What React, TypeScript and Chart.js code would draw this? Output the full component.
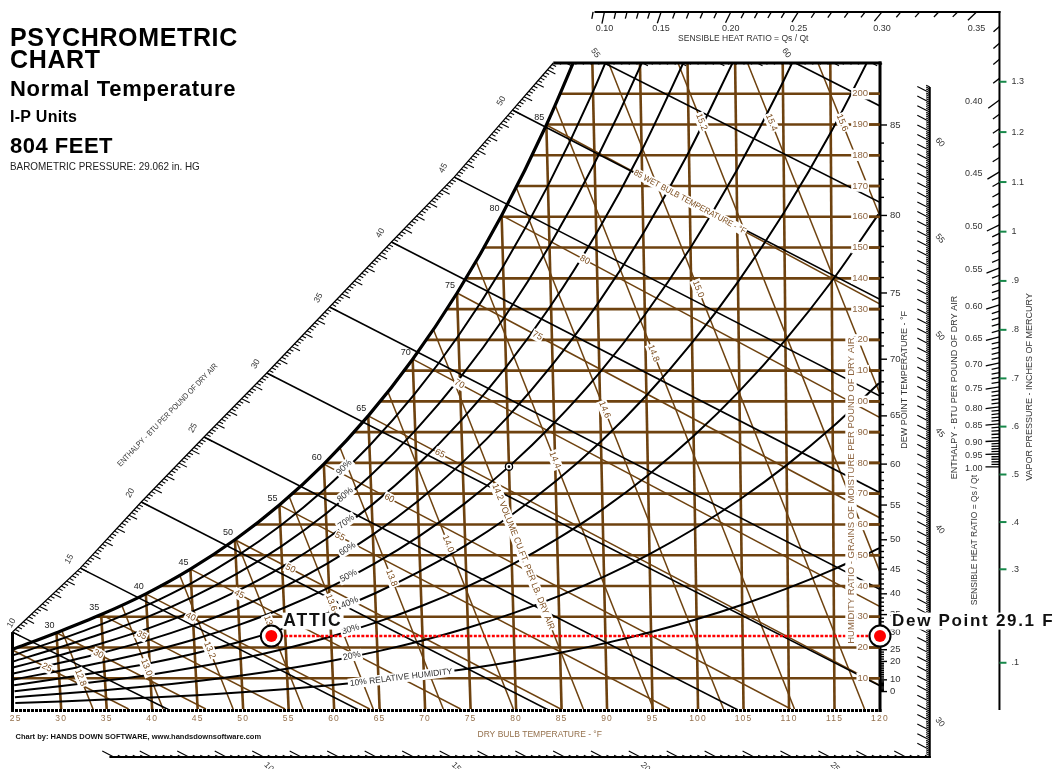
import React, { useEffect, useRef } from "react";
import { Chart, registerables } from "chart.js";

Chart.register(...registerables);

// ---------------- data ----------------
// dry-bulb temperatures (°F) on the bottom axis
const dryBulbTemps = [25, 30, 35, 40, 45, 50, 55, 60, 65, 70, 75, 80, 85, 90, 95, 100, 105, 110, 115, 120];
// leftward lean of each dry-bulb line (°F per grain) – the chart's oblique grid
const dryBulbSkew = [0.0219, 0.0208, 0.0197, 0.0186, 0.0175, 0.0164, 0.0153, 0.0142, 0.0131, 0.012, 0.011, 0.0099, 0.0088, 0.0077, 0.0066, 0.0055, 0.0044, 0.0033, 0.0022, 0.0011];
// saturation humidity ratio (grains / lb) at each dry-bulb temperature
const saturationGrains = [19.27, 24.79, 30.69, 37.44, 45.46, 55.01, 66.3, 79.61, 95.29, 113.71, 135.24, 160.44, 189.85, 224.1];

// relative humidity curves (grains / lb) at the dry-bulb temperatures above
const rhLevels = [10, 20, 30, 40, 50, 60, 70, 80, 90];
const rh10 = [1.92, 2.47, 3.07, 3.71, 4.5, 5.44, 6.54, 7.83, 9.35, 11.11, 13.15, 15.53, 18.27, 21.42, 25.04, 29.18, 33.91, 39.28, 45.39, 52.31];
const rh20 = [3.84, 4.95, 6.13, 7.44, 9.02, 10.89, 13.1, 15.69, 18.73, 22.28, 26.4, 31.18, 36.7, 43.05, 50.37, 58.76, 68.35, 79.28, 91.73, 105.89];
const rh30 = [5.76, 7.43, 9.19, 11.16, 13.54, 16.36, 19.68, 23.58, 28.16, 33.5, 39.71, 46.93, 55.29, 64.9, 75.99, 88.73, 103.33, 120.01, 139.06, 160.79];
const rh40 = [7.69, 9.9, 12.25, 14.89, 18.07, 21.84, 26.28, 31.5, 37.63, 44.79, 53.12, 62.81, 74.03, 86.97, 101.92, 119.12, 138.87, 161.5, 187.41, 217.06];
const rh50 = [9.61, 12.36, 15.31, 18.64, 22.61, 27.34, 32.9, 39.45, 47.14, 56.14, 66.6, 78.79, 92.95, 109.25, 128.15, 149.93, 174.98, 203.76, 236.8];
const rh60 = [11.54, 14.85, 18.38, 22.38, 27.17, 32.84, 39.54, 47.42, 56.68, 67.53, 80.17, 94.89, 112.01, 131.76, 154.69, 181.16, 211.69];
const rh70 = [13.47, 17.33, 21.46, 26.12, 31.72, 38.37, 46.2, 55.43, 66.27, 78.99, 93.82, 111.11, 131.23, 154.5, 181.54, 212.83];
const rh80 = [15.4, 19.82, 24.54, 29.89, 36.29, 43.9, 52.88, 63.46, 75.9, 90.51, 107.54, 127.44, 150.6, 177.48, 208.72, 244.9];
const rh90 = [17.34, 22.3, 27.61, 33.66, 40.87, 49.45, 59.58, 71.52, 85.58, 102.08, 121.35, 143.88, 170.15, 200.68, 236.2];
const rhCurves = [rh10, rh20, rh30, rh40, rh50, rh60, rh70, rh80, rh90];

// humidity-ratio grid lines (grains) and where each meets the saturation curve (°F axis)
const humidityRatioTicks = [10, 20, 30, 40, 50, 60, 70, 80, 90, 100, 110, 120, 130, 140, 150, 160, 170, 180, 190, 200];
const humidityLineStartX = [24.5, 25.22, 33.83, 40.87, 46.53, 51.25, 55.33, 58.98, 62.09, 64.99, 67.64, 70.05, 72.31, 74.43, 76.38, 78.33, 80.01, 81.68, 83.35, 84.78];

// dew point scale (°F) on the right edge and its humidity ratio (grains)
const dewPointTicks = [0, 10, 20, 25, 30, 35, 40, 45, 50, 55, 60, 65, 70, 75, 80, 85];
const dewPointGrains = [5.67, 9.48, 15.46, 19.27, 24.79, 30.69, 37.44, 45.46, 55.01, 66.3, 79.61, 95.29, 113.71, 135.24, 160.44, 189.85];

// wet-bulb lines: start on the saturation curve, end point
const wetBulbTemps = [25, 30, 35, 40, 45, 50, 55, 60, 65, 70, 75, 80, 85];
const wetBulbEndX = [37.4, 45.9, 54.6, 63.9, 73.9, 84.9, 96.9, 110.2, 120, 120, 120, 120, 120];
const wetBulbEndW = [0, 0, 0, 0, 0, 0, 0, 0, 7.7, 33.3, 62.1, 94.7, 131.6];
const wetBulbLabelAt = [0.3, 0.28, 0.22, 0.2, 0.18, 0.17, 0.155, 0.14, 0.14, 0.1, 0.19, 0.22, 0.43];

// specific volume lines (cu.ft / lb dry air)
const volumeValues = [12.8, 13.0, 13.2, 13.4, 13.6, 13.8, 14.0, 14.2, 14.4, 14.6, 14.8, 15.0, 15.2, 15.4, 15.6];
const volumeTopX = [30.07, 36.65, 43.03, 49.19, 55.06, 60.62, 65.89, 70.87, 75.57, 79.99, 84.33, 90.17, 97.8, 105.44, 113.18];
const volumeTopW = [25.5, 33.8, 43.5, 55.2, 69.1, 85.2, 103.3, 123.7, 145.8, 169.8, 196.0, 210, 210, 210, 210];
const volumeEndX = [33.5, 41.2, 48.9, 56.6, 64.3, 72.0, 79.7, 87.4, 95.1, 102.8, 110.6, 118.3, 120, 120, 120];
const volumeEndW = [0, 0, 0, 0, 0, 0, 0, 0, 0, 0, 0, 0, 44.5, 102.4, 160.2];
const volumeLabelAt = [0.6, 0.6, 0.56, 0.5, 0.5, 0.5, 0.48, 0.6, 0.445, 0.427, 0.41, 0.35, 0.116, 0.18, 0.39];

// enthalpy lines (BTU / lb dry air): start on the enthalpy scale, end on the outer scales
const enthalpyValues = [10, 15, 20, 25, 30, 35, 40, 45, 50, 55, 60];
const enthStartX = [24.65, 32.1, 38.8, 45.7, 52.6, 59.5, 66.3, 73.2, 79.6, 89.7, 110.7];
const enthStartW = [25.0, 45.8, 67.3, 88.4, 109.2, 130.7, 151.8, 172.9, 194.7, 210, 210];
const enthEndX = [52.27, 72.87, 93.66, 114.5, 125.47, 125.47, 125.47, 125.47, 125.47, 125.47, 125.47];
const enthEndW = [-15.6, -15.6, -15.6, -15.6, -0.7, 30.6, 62.0, 93.4, 124.8, 156.5, 187.8];

// sensible heat ratio protractor
const shrTopValues = [0.1, 0.15, 0.2, 0.25, 0.3, 0.35];
const shrTopX = [89.71, 95.94, 103.6, 111.03, 120.22, 130.61];
const shrRightValues = [0.36, 0.37, 0.38, 0.39, 0.4, 0.45, 0.5, 0.55, 0.6, 0.65, 0.7, 0.75, 0.8, 0.85, 0.9, 0.95, 1.0];
const shrRightW = [221.9, 216.4, 211.2, 205.0, 198.0, 174.6, 157.4, 143.4, 131.4, 121.0, 112.5, 104.7, 98.2, 92.7, 87.2, 82.9, 78.7];
const shrLabelled = [0.4, 0.45, 0.5, 0.55, 0.6, 0.65, 0.7, 0.75, 0.8, 0.85, 0.9, 0.95, 1.0];
const shrRefX = [79.22];
const shrRefW = [78.79];

// vapor pressure scale (in. Hg) and matching humidity ratio (grains)
const vaporPressureValues = [0.1, 0.2, 0.3, 0.4, 0.5, 0.6, 0.7, 0.8, 0.9, 1.0, 1.1, 1.2, 1.3];
const vaporPressureGrains = [15.03, 30.17, 45.42, 60.77, 76.23, 91.8, 107.47, 123.26, 139.16, 155.17, 171.3, 187.54, 203.9];

// plotted state points
const markerLabels = ["ATTIC", "Dew Point 29.1 F"];
const markerX = [53.1, 120];
const markerGrains = [23.7, 23.7];

// ---------------- styling ----------------
const X_MIN = 24.65;
const X_MAX = 120;
const W_MAX = 210;
const BROWN = "#6e420f";
const BROWN_TEXT = "#8e6540";
const TAN = "#94704c";
const FONT = '"Liberation Sans", Arial, Helvetica, sans-serif';
const f = (size: number, weight = "normal") => `${weight} ${size}px ${FONT}`;

const at = (i: number, w: number) => ({ x: dryBulbTemps[i] - dryBulbSkew[i] * w, y: w });

function interp(xs: number[], ys: number[], v: number) {
  const n = xs.length;
  let i = 0;
  while (i < n - 2 && v > xs[i + 1]) i++;
  const t = (v - xs[i]) / (xs[i + 1] - xs[i]);
  return ys[i] + (ys[i + 1] - ys[i]) * t;
}

function drawText(ctx: CanvasRenderingContext2D, text: string, x: number, y: number, o: any = {}) {
  const size = o.size || 10;
  ctx.save();
  ctx.translate(x, y);
  if (o.angle) ctx.rotate(o.angle);
  ctx.font = f(size, o.weight || "normal");
  (ctx as any).letterSpacing = o.spacing || "0px";
  ctx.textAlign = o.align || "center";
  ctx.textBaseline = "middle";
  let w = ctx.measureText(text).width;
  if (o.maxWidth && w > o.maxWidth) w = o.maxWidth;
  if (o.bg) {
    const pad = o.pad ?? 2;
    const bh = o.bgH ?? size * 1.2;
    const left = o.align === "left" ? 0 : o.align === "right" ? -w : -w / 2;
    ctx.fillStyle = "#fff";
    ctx.fillRect(left - pad, -bh / 2, w + pad * 2, bh);
  }
  ctx.fillStyle = o.color || "#222";
  if (o.maxWidth) ctx.fillText(text, 0, 0, o.maxWidth);
  else ctx.fillText(text, 0, 0);
  ctx.restore();
}

function drawOverlay(chart: any) {
  const ctx: CanvasRenderingContext2D = chart.ctx;
  const xs = chart.scales.x;
  const ys = chart.scales.y;
  const X = (v: number) => xs.getPixelForValue(v);
  const Y = (v: number) => ys.getPixelForValue(v);
  const area = chart.chartArea;
  const seg = (x1: number, y1: number, x2: number, y2: number) => {
    ctx.beginPath();
    ctx.moveTo(x1, y1);
    ctx.lineTo(x2, y2);
    ctx.stroke();
  };
  const unit = (dx: number, dy: number) => {
    const l = Math.hypot(dx, dy) || 1;
    return { x: dx / l, y: dy / l };
  };
  const pxOf = (p: any) => ({ x: X(p.x), y: Y(p.y) });

  ctx.save();
  ctx.lineCap = "butt";
  ctx.strokeStyle = "#000";

  // ---- chart frame ----
  const nL = 9;
  const leftVals = enthalpyValues.slice(0, nL);
  const leftX = enthStartX.slice(0, nL);
  const leftW = enthStartW.slice(0, nL);
  const hCorner = interp(leftW, leftVals, W_MAX);
  const cornerX = interp(leftVals, leftX, hCorner);
  ctx.lineWidth = 3;
  seg(X(X_MAX), Y(0) + 3, X(X_MAX), Y(W_MAX) - 1.5);
  seg(X(X_MIN), Y(0) + 3, X(X_MIN), Y(enthStartW[0]));
  seg(X(cornerX), Y(W_MAX), X(X_MAX) + 1.5, Y(W_MAX));
  ctx.setLineDash([3, 1]);
  seg(X(X_MIN) - 1.5, Y(0) + 1.5, X(X_MAX) + 1.5, Y(0) + 1.5);
  ctx.setLineDash([]);

  const eDir = unit(X(enthEndX[4]) - X(enthStartX[4]), Y(enthEndW[4]) - Y(enthStartW[4]));

  // ---- left diagonal enthalpy scale ----
  ctx.lineWidth = 1.3;
  ctx.beginPath();
  leftVals.forEach((h, k) => {
    const px = X(leftX[k]);
    const py = Y(leftW[k]);
    if (k === 0) ctx.moveTo(px, py);
    else ctx.lineTo(px, py);
  });
  ctx.lineTo(X(cornerX), Y(W_MAX));
  ctx.stroke();
  ctx.lineWidth = 1.1;
  for (let k = 0; ; k++) {
    const h = leftVals[0] + k * 0.2;
    if (h > hCorner) break;
    const px = X(interp(leftVals, leftX, h));
    const py = Y(interp(leftVals, leftW, h));
    const len = k % 5 === 0 ? 9 : 4.5;
    seg(px, py, px + eDir.x * len, py + eDir.y * len);
  }
  leftVals.forEach((h, k) =>
    drawText(ctx, String(h), Math.max(X(leftX[k]) - 11, area.left - 1), Y(leftW[k]) - 9, { size: 8.5, color: "#333", angle: -Math.PI / 3 })
  );

  // top edge enthalpy marks
  const topVals = enthalpyValues.slice(nL);
  const topX = enthStartX.slice(nL);
  const hTop0 = interp(topX, topVals, cornerX);
  const hTop1 = interp(topX, topVals, X_MAX);
  for (let k = Math.ceil(hTop0 * 5); k <= hTop1 * 5; k++) {
    const px = X(interp(topVals, topX, k / 5));
    const py = Y(W_MAX);
    const len = k % 5 === 0 ? 6 : 3;
    seg(px, py, px + eDir.x * len, py + eDir.y * len);
  }
  topVals.forEach((h, k) =>
    drawText(ctx, String(h), X(topX[k]) - 9, Y(W_MAX) - 10, { size: 8.5, color: "#333", angle: Math.PI * 0.3 })
  );

  // bottom enthalpy scale
  const bVals = enthalpyValues.slice(0, 4);
  const bX = enthEndX.slice(0, 4);
  const bW = enthEndW[0];
  const bStartX = 35.3;
  const rScaleX = enthEndX[4];
  const by = Y(bW);
  ctx.lineWidth = 2;
  seg(X(bStartX), by, X(rScaleX) + 1, by);
  ctx.lineWidth = 1.1;
  const hb0 = interp(bX, bVals, bStartX);
  const hb1 = interp(bX, bVals, rScaleX);
  for (let k = Math.ceil(hb0 * 5); k <= hb1 * 5; k++) {
    const px = X(interp(bVals, bX, k / 5));
    const len = k % 5 === 0 ? 13 : 4;
    seg(px, by, px - eDir.x * len, by - eDir.y * len);
  }
  bVals.forEach((h, k) =>
    drawText(ctx, String(h), X(bX[k]) + 5, by + 10, { size: 8.5, color: "#333", angle: Math.PI / 4 })
  );

  // right enthalpy scale
  const rVals = enthalpyValues.slice(4);
  const rW = enthEndW.slice(4);
  const rTopW = 202.2;
  const rx = X(rScaleX);
  ctx.lineWidth = 2;
  seg(rx, by + 1, rx, Y(rTopW));
  ctx.lineWidth = 1.1;
  const hr0 = interp(rW, rVals, bW);
  const hr1 = interp(rW, rVals, rTopW);
  for (let k = Math.ceil(hr0 * 10); k <= hr1 * 10; k++) {
    const py = Y(interp(rVals, rW, k / 10));
    const len = k % 5 === 0 ? 14 : 4;
    seg(rx, py, rx - eDir.x * len, py - eDir.y * len);
  }
  rVals.forEach((h, k) =>
    drawText(ctx, String(h), rx + 10, Y(rW[k]) + 11, { size: 8.5, color: "#333", angle: Math.PI * 0.28 })
  );

  // ---- sensible heat ratio protractor ----
  const R = { x: X(shrRefX[0]), y: Y(shrRefW[0]) };
  const shrTopW = 226.6;
  const shrScaleX = 133.13;
  const sx = X(shrScaleX);
  const sy = Y(shrTopW);
  ctx.lineWidth = 2;
  seg(X(88.62), sy, sx + 1, sy);
  seg(sx, sy - 1, sx, Y(-0.3));
  ctx.lineWidth = 1.3;
  for (let k = 9; k <= 35; k++) {
    const px = X(interp(shrTopValues, shrTopX, k / 100));
    const d = unit(R.x - px, R.y - sy);
    const len = k % 5 === 0 ? 12 : 7;
    seg(px, sy, px + d.x * len, sy + d.y * len);
  }
  shrTopValues.forEach((v, k) => drawText(ctx, v.toFixed(2), X(shrTopX[k]), sy + 17, { size: 9, color: "#333" }));
  drawText(ctx, "SENSIBLE HEAT RATIO = Qs / Qt", (X(shrTopX[0]) + X(shrTopX[4])) / 2, sy + 27, { size: 8.5, color: "#333" });
  for (let k = 36; k <= 100; k++) {
    const py = Y(interp(shrRightValues, shrRightW, k / 100));
    const d = unit(R.x - sx, R.y - py);
    const len = k % 5 === 0 ? 14 : 8;
    seg(sx, py, sx + d.x * len, py + d.y * len);
  }
  shrLabelled.forEach((v) => {
    const py = Y(interp(shrRightValues, shrRightW, v));
    drawText(ctx, v.toFixed(2), sx - 17, py + 2, { size: 9, color: "#333", align: "right" });
  });

  // vapor pressure scale
  ctx.strokeStyle = "#17884a";
  ctx.lineWidth = 2;
  vaporPressureValues.forEach((v, k) => {
    const py = Y(vaporPressureGrains[k]);
    seg(sx, py, sx + 7, py);
    const label = v < 1 ? String(v).slice(1) : String(v);
    drawText(ctx, label, sx + 12, py, { size: 9, color: "#333", align: "left" });
  });

  // ---- right axis: humidity ratio (brown) and dew point (black) ----
  const ax = X(X_MAX);
  ctx.strokeStyle = BROWN;
  ctx.lineWidth = 2.5;
  humidityRatioTicks.forEach((w) => {
    const py = Y(w);
    seg(ax - 11, py, ax, py);
    drawText(ctx, String(w), ax - 12, py, { size: 9.5, color: BROWN_TEXT, align: "right", bg: true, pad: 1 });
  });
  ctx.strokeStyle = "#000";
  ctx.lineWidth = 1.4;
  for (let t = 0; t <= 85; t++) {
    const py = Y(interp(dewPointTicks, dewPointGrains, t));
    const major = dewPointTicks.indexOf(t) >= 0;
    seg(ax, py, ax + (major ? 7 : 4), py);
  }
  dewPointTicks.forEach((t, k) =>
    drawText(ctx, String(t), ax + 10, Y(dewPointGrains[k]), { size: 9.5, color: "#333", align: "left" })
  );

  // axis titles
  drawText(ctx, "DEW POINT TEMPERATURE - °F", ax + 25, Y(107), { size: 9, color: "#333", angle: -Math.PI / 2 });
  drawText(ctx, "HUMIDITY RATIO - GRAINS OF MOISTURE PER POUND OF DRY AIR", ax - 29, Y(71), {
    size: 9.5, color: BROWN_TEXT, angle: -Math.PI / 2, bg: true, maxWidth: 316, pad: 1,
  });
  drawText(ctx, "ENTHALPY - BTU PER POUND OF DRY AIR", rx + 25, Y(104.5), { size: 9, color: "#333", angle: -Math.PI / 2 });
  drawText(ctx, "SENSIBLE HEAT RATIO = Qs / Qt", sx - 25, Y(54.9), { size: 8.5, color: "#333", angle: -Math.PI / 2 });
  drawText(ctx, "VAPOR PRESSURE - INCHES OF MERCURY", sx + 30, Y(104.7), { size: 9, color: "#333", angle: -Math.PI / 2 });

  // bottom axis
  dryBulbTemps.forEach((t) =>
    drawText(ctx, String(t), X(t), Y(0) + 10, { size: 8.5, color: TAN, spacing: "1.2px" })
  );
  drawText(ctx, "DRY BULB TEMPERATURE - °F", X(82.6), Y(0) + 26, { size: 8.5, color: TAN });
  drawText(ctx, "Chart by: HANDS DOWN SOFTWARE, www.handsdownsoftware.com", area.left + 3, Y(0) + 28, {
    size: 7.5, weight: "bold", color: "#111", align: "left", maxWidth: 252,
  });
  drawText(ctx, "ENTHALPY - BTU PER POUND OF DRY AIR", X(41.7), Y(95.5), {
    size: 8, color: "#333", angle: -0.8, maxWidth: 140,
  });

  // ---- in-chart labels ----
  // saturation temperatures
  for (let i = 1; i <= 12; i++) {
    const p = pxOf(at(i, saturationGrains[i]));
    drawText(ctx, String(dryBulbTemps[i]), p.x - 2, p.y - 7, { size: 9, color: "#222", align: "right" });
  }
  // wet bulb labels
  wetBulbTemps.forEach((t, k) => {
    const i = dryBulbTemps.indexOf(t);
    const a = pxOf(at(i, saturationGrains[i]));
    const b = pxOf({ x: wetBulbEndX[k], y: wetBulbEndW[k] });
    const fr = wetBulbLabelAt[k];
    const long = k === wetBulbTemps.length - 1;
    const text = long ? `${t} WET BULB TEMPERATURE - °F` : String(t);
    drawText(ctx, text, a.x + (b.x - a.x) * fr, a.y + (b.y - a.y) * fr, {
      size: long ? 8.5 : 9, color: "#7a4a1a", angle: Math.atan2(b.y - a.y, b.x - a.x), bg: true, pad: 1,
      maxWidth: long ? 126 : undefined,
    });
  });
  // volume labels
  volumeValues.forEach((v, k) => {
    const a = pxOf({ x: volumeTopX[k], y: volumeTopW[k] });
    const b = pxOf({ x: volumeEndX[k], y: volumeEndW[k] });
    const fr = volumeLabelAt[k];
    const long = v === 14.2;
    const text = long ? "14.2 VOLUME CU.FT. PER LB. DRY AIR" : v.toFixed(1);
    drawText(ctx, text, a.x + (b.x - a.x) * fr, a.y + (b.y - a.y) * fr, {
      size: 9, color: "#7a4a1a", angle: Math.atan2(b.y - a.y, b.x - a.x), bg: true, pad: 1,
      maxWidth: long ? 156 : undefined,
    });
  });
  // relative humidity labels
  rhCurves.forEach((c, r) => {
    if (r === 0) {
      const a = pxOf(at(8, c[8]));
      const b = pxOf(at(9, c[9]));
      drawText(ctx, "10% RELATIVE HUMIDITY", (a.x + b.x) / 2, (a.y + b.y) / 2, {
        size: 8.5, color: "#333", angle: Math.atan2(b.y - a.y, b.x - a.x), bg: true, pad: 2,
      });
    } else {
      const a = pxOf(at(7, c[7]));
      const b = pxOf(at(8, c[8]));
      drawText(ctx, `${rhLevels[r]}%`, (a.x + b.x) / 2 - 3, (a.y + b.y) / 2, {
        size: 9, color: "#333", angle: Math.atan2(b.y - a.y, b.x - a.x), bg: true, pad: 1.5,
      });
    }
  });

  // state point captions
  const my = Y(markerGrains[0]);
  drawText(ctx, markerLabels[0], X(markerX[0]) + 12, my - 15, {
    size: 17.5, weight: "bold", color: "#111", align: "left", spacing: "1.8px", bg: true, pad: 1, bgH: 17,
  });
  drawText(ctx, markerLabels[1], X(markerX[1]) + 12, my - 15, {
    size: 17, weight: "bold", color: "#111", align: "left", spacing: "1.7px", bg: true, pad: 1, bgH: 17,
  });

  ctx.restore();
}

const overlayPlugin = {
  id: "psyOverlay",
  beforeDraw(chart: any) {
    chart.$overlayDone = false;
  },
  beforeDatasetDraw(chart: any, args: any) {
    const d = chart.data.datasets[args.index];
    if (d && d.isMarker && !chart.$overlayDone) {
      chart.$overlayDone = true;
      drawOverlay(chart);
    }
  },
  afterDatasetsDraw(chart: any) {
    if (!chart.$overlayDone) {
      chart.$overlayDone = true;
      drawOverlay(chart);
    }
  },
};

function buildDatasets() {
  const d: any[] = [];
  const line = (data: any[], color: string, width: number, order: number, extra: any = {}) =>
    d.push({
      data, showLine: true, borderColor: color, borderWidth: width, pointRadius: 0, fill: false,
      order, capBezierPoints: false, ...extra,
    });

  // humidity-ratio grid
  humidityRatioTicks.forEach((w, k) => line([{ x: humidityLineStartX[k], y: w }, { x: X_MAX, y: w }], BROWN, 2.6, 10));
  // dry-bulb grid
  for (let i = 1; i < dryBulbTemps.length - 1; i++) {
    const top = i < saturationGrains.length && saturationGrains[i] < W_MAX ? saturationGrains[i] : W_MAX;
    line([at(i, top), { x: dryBulbTemps[i], y: 0 }], BROWN, 2.6, 10);
  }
  // wet bulb
  wetBulbTemps.forEach((t, k) => {
    const i = dryBulbTemps.indexOf(t);
    line([at(i, saturationGrains[i]), { x: wetBulbEndX[k], y: wetBulbEndW[k] }], BROWN, 1.5, 9);
  });
  // specific volume
  volumeValues.forEach((v, k) =>
    line([{ x: volumeTopX[k], y: volumeTopW[k] }, { x: volumeEndX[k], y: volumeEndW[k] }], BROWN, 1.5, 9)
  );
  // enthalpy
  enthalpyValues.forEach((h, k) =>
    line([{ x: enthStartX[k], y: enthStartW[k] }, { x: enthEndX[k], y: enthEndW[k] }], "#000", 1.6, 8)
  );
  // relative humidity
  rhCurves.forEach((c) => line(c.map((w, i) => at(i, w)), "#000", 2, 7, { cubicInterpolationMode: "monotone" }));
  // saturation
  line(saturationGrains.map((w, i) => at(i, w)), "#000", 3.2, 6, { cubicInterpolationMode: "monotone" });
  // dew point projection
  line(markerX.map((x, k) => ({ x, y: markerGrains[k] })), "#ff0000", 2.5, 5, { borderDash: [3, 1.5] });

  const pts = markerX.map((x, k) => ({ x, y: markerGrains[k] }));
  d.push({ data: pts, showLine: false, pointRadius: 10.5, pointBackgroundColor: "#fff", pointBorderColor: "#000", pointBorderWidth: 2, order: 2, clip: false, isMarker: true });
  d.push({ data: pts, showLine: false, pointRadius: 6, pointBackgroundColor: "#ff0000", pointBorderColor: "#ff0000", pointBorderWidth: 0, order: 1, clip: false, isMarker: true });
  const ref = [{ x: shrRefX[0], y: shrRefW[0] }];
  d.push({ data: ref, showLine: false, pointRadius: 3.6, pointBackgroundColor: "#fff", pointBorderColor: "#000", pointBorderWidth: 1.3, order: 2, isMarker: true });
  d.push({ data: ref, showLine: false, pointRadius: 1.3, pointBackgroundColor: "#000", pointBorderColor: "#000", pointBorderWidth: 0, order: 1, isMarker: true });
  return d;
}

const titleStyle = (top: number, size: number, weight = "bold", spacing = 0): any => ({
  position: "absolute",
  left: 10,
  top,
  fontFamily: FONT,
  fontSize: size,
  fontWeight: weight,
  lineHeight: 1,
  letterSpacing: spacing,
  whiteSpace: "nowrap",
  color: "#000",
  margin: 0,
});

export default function App() {
  const ref = useRef<HTMLCanvasElement>(null);

  useEffect(() => {
    const canvas = ref.current;
    if (!canvas) return;
    const chart = new Chart(canvas, {
      type: "scatter",
      data: { datasets: buildDatasets() },
      options: {
        responsive: false,
        maintainAspectRatio: false,
        animation: false,
        events: [],
        devicePixelRatio: 1,
        layout: { padding: { left: 8, right: 180, top: 63, bottom: 60 } },
        plugins: { legend: { display: false }, tooltip: { enabled: false }, title: { display: false } },
        scales: {
          x: { type: "linear", min: X_MIN, max: X_MAX, display: false },
          y: { type: "linear", min: 0, max: W_MAX, display: false },
        },
        elements: { point: { radius: 0 } },
      } as any,
      plugins: [overlayPlugin],
    } as any);
    return () => chart.destroy();
  }, []);

  return (
    <div style={{ position: "fixed", left: 0, top: 0, width: 1060, height: 769, background: "#fff", overflow: "hidden" }}>
      <canvas ref={ref} width={1060} height={769} style={{ position: "absolute", left: 0, top: 0, width: 1060, height: 769 }} />
      <div style={titleStyle(24.5, 25, "bold", 0.65)}>PSYCHROMETRIC</div>
      <div style={titleStyle(47, 25, "bold", 0.65)}>CHART</div>
      <div style={titleStyle(78, 22, "bold", 0.7)}>Normal Temperature</div>
      <div style={titleStyle(108.5, 16, "bold", 0.3)}>I-P Units</div>
      <div style={titleStyle(134.5, 22, "bold", 0.5)}>804 FEET</div>
      <div style={{ ...titleStyle(160.7, 11, "normal"), color: "#222", transform: "scaleX(0.9)", transformOrigin: "left center" }}>
        BAROMETRIC PRESSURE: 29.062 in. HG
      </div>
    </div>
  );
}
